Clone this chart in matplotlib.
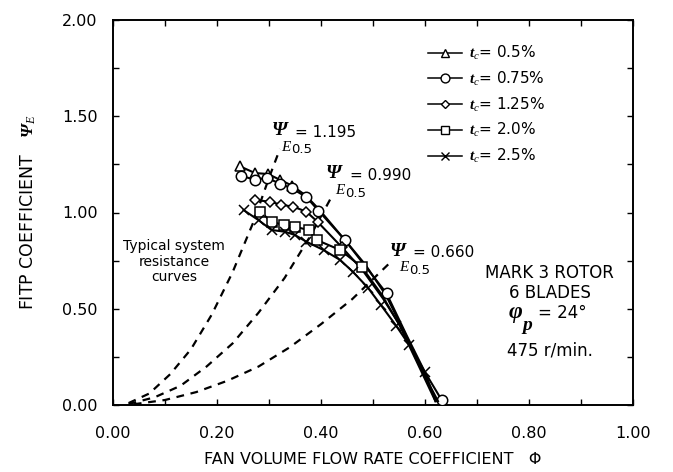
import matplotlib
matplotlib.use("Agg")
import matplotlib.pyplot as plt
from matplotlib.ticker import MultipleLocator

plt.rcParams['font.family'] = ['DejaVu Sans']
plt.rcParams['mathtext.fontset'] = 'custom'
plt.rcParams['mathtext.rm'] = 'Liberation Serif'
plt.rcParams['mathtext.it'] = 'Liberation Serif:italic'
plt.rcParams['mathtext.bf'] = 'Liberation Serif:italic:bold'

# ---- data ----
labels = [r'$\mathbf{t}_{\mathit{c}}$= 0.5%', r'$\mathbf{t}_{\mathit{c}}$= 0.75%',
          r'$\mathbf{t}_{\mathit{c}}$= 1.25%', r'$\mathbf{t}_{\mathit{c}}$= 2.0%',
          r'$\mathbf{t}_{\mathit{c}}$= 2.5%']
markers = ['^', 'o', 'D', 's', 'x']

phi_05 = [0.244, 0.273, 0.298, 0.321, 0.344, 0.370, 0.395, 0.445, 0.485, 0.525, 0.560, 0.590, 0.622]
psi_05 = [1.24, 1.205, 1.20, 1.17, 1.14, 1.09, 1.02, 0.86, 0.73, 0.57, 0.38, 0.21, 0.02]

phi_075 = [0.247, 0.273, 0.296, 0.321, 0.344, 0.372, 0.395, 0.446, 0.526, 0.565, 0.600, 0.632]
psi_075 = [1.19, 1.17, 1.18, 1.15, 1.125, 1.08, 1.01, 0.857, 0.58, 0.36, 0.17, 0.026]

phi_125 = [0.273, 0.302, 0.324, 0.347, 0.372, 0.394, 0.440, 0.480, 0.520, 0.555, 0.590, 0.625]
psi_125 = [1.065, 1.056, 1.04, 1.03, 1.004, 0.95, 0.82, 0.70, 0.55, 0.40, 0.20, 0.02]

phi_20 = [0.283, 0.305, 0.328, 0.350, 0.376, 0.392, 0.437, 0.478, 0.515, 0.550, 0.585, 0.620]
psi_20 = [1.004, 0.952, 0.935, 0.926, 0.909, 0.857, 0.805, 0.718, 0.58, 0.42, 0.22, 0.02]

phi_25 = [0.251, 0.280, 0.305, 0.331, 0.350, 0.372, 0.405, 0.437, 0.462, 0.490, 0.515, 0.545, 0.570, 0.600, 0.620]
psi_25 = [1.013, 0.96, 0.909, 0.90, 0.883, 0.848, 0.805, 0.753, 0.69, 0.61, 0.52, 0.41, 0.31, 0.17, 0.02]

series_phi = [phi_05, phi_075, phi_125, phi_20, phi_25]
series_psi = [psi_05, psi_075, psi_125, psi_20, psi_25]
# how many leading points show a visible marker (the rest merge into the dark band)
marker_counts = [5, 9, 7, 8, 14]

# system resistance curves (dashed)
sys_labels = ['= 1.195', '= 0.990', '= 0.660']
sys1_phi = [0.03, 0.07, 0.11, 0.15, 0.19, 0.23, 0.27, 0.30, 0.321]
sys1_psi = [0.01, 0.06, 0.16, 0.29, 0.47, 0.69, 0.95, 1.18, 1.33]
sys2_phi = [0.03, 0.08, 0.13, 0.18, 0.23, 0.28, 0.33, 0.38, 0.42]
sys2_psi = [0.005, 0.04, 0.10, 0.20, 0.32, 0.48, 0.66, 0.88, 1.08]
sys3_phi = [0.04, 0.10, 0.16, 0.22, 0.28, 0.34, 0.40, 0.46, 0.533]
sys3_psi = [0.004, 0.026, 0.067, 0.126, 0.20, 0.30, 0.42, 0.55, 0.74]
sys_phi = [sys1_phi, sys2_phi, sys3_phi]
sys_psi = [sys1_psi, sys2_psi, sys3_psi]
sys_label_pos = [(0.305, 1.425), (0.410, 1.20), (0.532, 0.80)]

xticks = [0.0, 0.2, 0.4, 0.6, 0.8, 1.0]
yticks = [0.0, 0.5, 1.0, 1.5, 2.0]

serif_bi = dict(family='Liberation Serif', style='italic', weight='bold')

# ---- figure ----
fig = plt.figure(figsize=(6.73, 4.72), dpi=100)
ax = fig.add_axes([113/673, 1-405/472, 520/673, 385/472])

for ph, ps in zip(sys_phi, sys_psi):
    ax.plot(ph, ps, color='black', lw=1.6, ls=(0, (3.5, 3.0)), zorder=1)

handles = []
for ph, ps, m, lab, n in zip(series_phi, series_psi, markers, labels, marker_counts):
    size = {'^': 7.5, 'o': 7.5, 'D': 5.0, 's': 6.8, 'x': 7.0}[m]
    ax.plot(ph, ps, color='black', lw=1.5, marker=m, markersize=size,
            markevery=list(range(n)) + [len(ph) - 1] if m == 'o' else list(range(n)),
            markerfacecolor='white', markeredgecolor='black',
            markeredgewidth=1.1, zorder=3)
    h, = ax.plot([], [], color='black', lw=1.1, marker=m, markersize=size * 0.85,
                 markerfacecolor='white', markeredgecolor='black',
                 markeredgewidth=1.0, label=lab)
    handles.append(h)

for (x, y), txt in zip(sys_label_pos, sys_labels):
    ax.text(x, y, 'Ψ', fontsize=14, ha='left', va='center', **serif_bi)
    ax.text(x + 0.018, y - 0.085, 'E', fontsize=11, ha='left', va='center',
            family='Liberation Serif', style='italic')
    ax.text(x + 0.037, y - 0.10, '0.5', fontsize=9.5, ha='left', va='center')
    ax.text(x + 0.045, y - 0.01, txt, fontsize=11, ha='left', va='center')

ax.text(0.118, 0.745, 'Typical system\nresistance\ncurves', fontsize=10,
        ha='center', va='center', linespacing=1.15)

ax.text(0.84, 0.685, 'MARK 3 ROTOR', fontsize=12, ha='center', va='center')
ax.text(0.84, 0.58, '6 BLADES', fontsize=12, ha='center', va='center')
ax.text(0.775, 0.48, 'φ', fontsize=17, ha='center', va='center', **serif_bi)
ax.text(0.797, 0.415, 'p', fontsize=14, ha='center', va='center', **serif_bi)
ax.text(0.818, 0.48, '= 24°', fontsize=12, ha='left', va='center')
ax.text(0.84, 0.285, '475 r/min.', fontsize=12, ha='center', va='center')

ax.set_xlim(0, 1.0)
ax.set_ylim(0, 2.0)
ax.set_xticks(xticks)
ax.set_yticks(yticks)
ax.set_xticklabels([f'{v:.2f}' for v in xticks])
ax.set_yticklabels([f'{v:.2f}' for v in yticks])
ax.xaxis.set_minor_locator(MultipleLocator(0.1))
ax.yaxis.set_minor_locator(MultipleLocator(0.25))
ax.tick_params(which='both', direction='in', top=True, right=True, length=4, width=1.0)
ax.tick_params(axis='x', which='major', pad=15, labelsize=11.5)
ax.tick_params(axis='y', which='major', pad=11, labelsize=11.5)
for s in ax.spines.values():
    s.set_linewidth(1.4)

ax.set_xlabel('FAN VOLUME FLOW RATE COEFFICIENT   Φ', fontsize=11.5, labelpad=8)
ax.set_ylabel(r'FITP COEFFICIENT   $\mathbf{\Psi}_{\mathit{E}}$', fontsize=12.5, labelpad=17)

leg = ax.legend(handles=handles, loc='upper left', bbox_to_anchor=(428/673, 1-44/472),
                bbox_transform=fig.transFigure, frameon=False, fontsize=11,
                handlelength=2.2, handletextpad=0.5, labelspacing=0.5, borderpad=0,
                borderaxespad=0)

fig.savefig('out.png', dpi=100)
